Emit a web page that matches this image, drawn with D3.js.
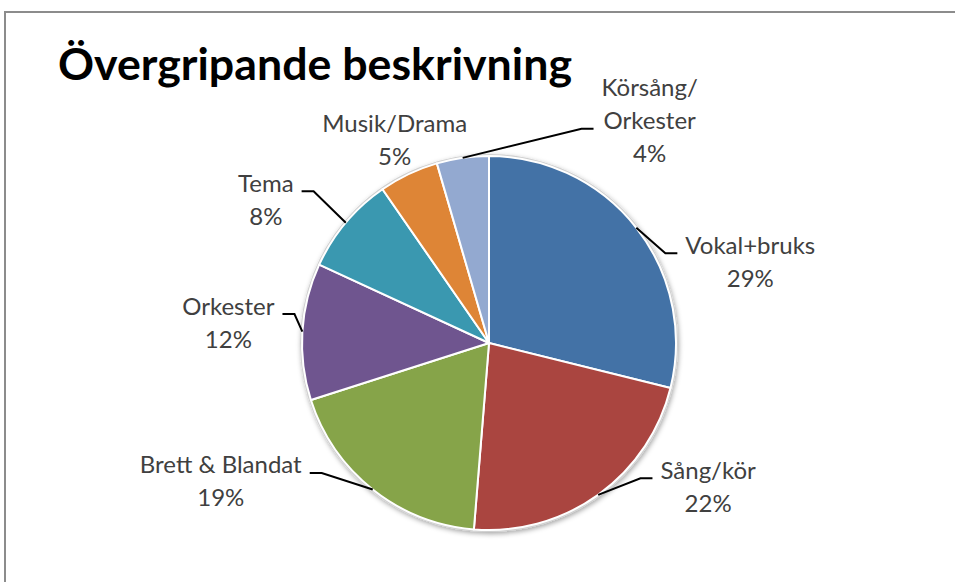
<!DOCTYPE html>
<html>
<head>
  <meta charset="utf-8">
  <title>Övergripande beskrivning</title>
  <style>
  body { margin: 0; background: #fff; }
  .lbl { font-family: Lato, "Open Sans", sans-serif; font-size: 24px; fill: #404040; }
  .leader { fill: none; stroke: #000; stroke-width: 2px; }
  </style>
</head>
<body>
  <svg width="955" height="582"></svg>
  <script src="https://d3js.org/d3.v7.min.js"></script>
  <script>
  // data (share of answers, %)
  var categories = ["Vokal+bruks", "Sång/kör", "Brett & Blandat", "Orkester", "Tema", "Musik/Drama", "Körsång/\nOrkester"];
  var values = [28.6, 22.2, 18.6, 11.7, 8.4, 5.1, 4.45];
  var colors = ["#4372a6", "#aa4540", "#86a449", "#6f558f", "#3a98b0", "#de8536", "#93a9d0"];

  // label nudges from the slice edge point (layout only)
  var labelOffsets = [[114, 34], [110, -8], [-152, -8], [-74, -9], [-80, -23], [-14, -34], [187, -37]];

  var svg = d3.select("svg");
  var cx = 489, cy = 343, r = 187;
  var lineH = 33;

  // frame
  svg.append("rect")
    .attr("x", 5).attr("y", 12)
    .attr("width", 980).attr("height", 600)
    .attr("fill", "none")
    .attr("stroke", "#8c8c8c")
    .attr("stroke-width", 2);

  svg.append("text")
    .attr("x", 58).attr("y", 80)
    .attr("textLength", 514)
    .attr("lengthAdjust", "spacingAndGlyphs")
    .style("font-family", "Lato, 'Open Sans', sans-serif")
    .style("font-weight", "bold")
    .style("font-size", "43px")
    .style("fill", "#000")
    .text("Övergripande beskrivning");

  var defs = svg.append("defs");
  var f = defs.append("filter").attr("id", "shadow")
    .attr("x", "-10%").attr("y", "-10%").attr("width", "120%").attr("height", "120%");
  f.append("feDropShadow")
    .attr("dx", 1).attr("dy", 2).attr("stdDeviation", 2.5)
    .attr("flood-color", "#000").attr("flood-opacity", 0.35);

  var pie = d3.pie().sort(null).value(function(d) { return d; });
  var arcs = pie(values);
  var total = d3.sum(values);
  var fmt = d3.format(".0%");

  var arc = d3.arc().innerRadius(0).outerRadius(r);
  var edgeArc = d3.arc().innerRadius(r).outerRadius(r);

  var g = svg.append("g").attr("transform", "translate(" + cx + "," + cy + ")");

  g.append("circle")
    .attr("r", r + 1)
    .attr("fill", "#fff")
    .attr("stroke", "#d0d0d0")
    .attr("stroke-width", 2)
    .attr("filter", "url(#shadow)");

  g.selectAll(".slice")
    .data(arcs)
    .enter()
    .append("path")
    .attr("class", "slice")
    .attr("d", arc)
    .attr("fill", function(d, i) { return colors[i]; })
    .attr("stroke", "#fff")
    .attr("stroke-width", 2)
    .attr("stroke-linejoin", "round");

  // labels
  arcs.forEach(function(d, i) {
    var e = edgeArc.centroid(d);
    var off = labelOffsets[i];
    var lx = e[0] + off[0], ly = e[1] + off[1];
    var lines = categories[i].split("\n").concat([fmt(d.value / total)]);
    var n = lines.length;

    var t = g.append("text")
      .attr("class", "lbl")
      .attr("text-anchor", "middle");
    var w = 0;
    lines.forEach(function(s, k) {
      var ts = t.append("tspan")
        .attr("x", lx)
        .attr("y", ly + (k - (n - 1) / 2) * lineH)
        .attr("dy", "0.35em")
        .text(s);
      w = Math.max(w, ts.node().getComputedTextLength());
    });

    // leader line only when the label sits away from the pie
    if (Math.hypot(off[0], off[1]) > 50) {
      var attach = Math.floor((n - 1) / 2);
      var ay = ly + (attach - (n - 1) / 2) * lineH + 8;
      var right = lx > e[0];
      var ax = right ? lx - w / 2 - 8 : lx + w / 2 + 8;
      var bx = right ? ax - 12 : ax + 12;
      g.append("path")
        .attr("class", "leader")
        .attr("d", "M" + ax + "," + ay + "L" + bx + "," + ay + "L" + e[0] + "," + e[1]);
    }
  });
  </script>
</body>
</html>
